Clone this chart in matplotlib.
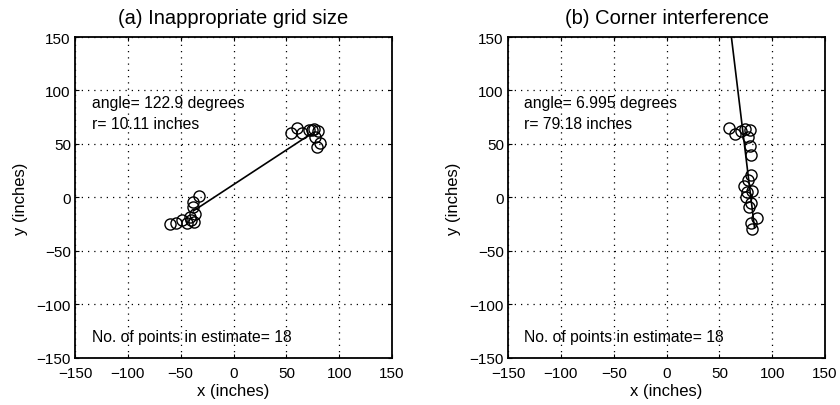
import numpy as np
import matplotlib
matplotlib.use('Agg')
import matplotlib.pyplot as plt

plt.rcParams['font.family'] = ['Liberation Sans', 'DejaVu Sans']

# (a) measured points, two clusters
a_x = [-60, -54, -49, -44, -40, -37, -36, -38, -38, -33, -41,
       60, 54, 65, 71, 76, 80, 77, 82, 79, 74]
a_y = [-25, -24, -21, -24, -21, -23, -15, -9, -4, 1, -18,
       65, 60, 60, 63, 64, 62, 57, 51, 47, 63]
a_angle = 122.9   # degrees
a_r = 10.11       # inches
a_x_span = [-38, 73]

# (b) measured points along one wall
b_x = [59, 65, 70, 74, 79, 77, 79, 80, 80, 77, 73, 76, 81, 75, 80, 78, 86, 80, 81]
b_y = [65, 59, 62, 64, 63, 57, 48, 40, 21, 16, 11, 5, 6, 0, -5, -9, -19, -24, -29]
b_angle = 6.995
b_r = 79.18
b_y_span = [-28, 150]

n_points = 18
ticks = [-150, -100, -50, 0, 50, 100, 150]


def hough_line(angle, r, xs=None, ys=None):
    """Points on the line x*cos(t) + y*sin(t) = r."""
    t = np.deg2rad(angle)
    c, s = np.cos(t), np.sin(t)
    if xs is not None:
        xs = np.asarray(xs, dtype=float)
        return xs, (r - xs * c) / s
    ys = np.asarray(ys, dtype=float)
    return (r - ys * s) / c, ys


def setup_axes(ax, title):
    ax.set_xlim(-150, 150)
    ax.set_ylim(-150, 150)
    labels = ['\u2212' + str(-t) if t < 0 else str(t) for t in ticks]
    ax.set_xticks(ticks)
    ax.set_yticks(ticks)
    ax.set_xticklabels(labels)
    ax.set_yticklabels(labels)
    ax.grid(True, color='black', linestyle=(0, (1, 4)), linewidth=0.9)
    ax.tick_params(direction='in', length=3, labelsize=11, top=True, right=True,
                   width=0.8)
    ax.tick_params(axis='x', pad=6)
    ax.tick_params(axis='y', pad=3)
    for sp in ax.spines.values():
        sp.set_linewidth(1.3)
    ax.set_title(title, fontsize=14.5, pad=10)
    ax.set_xlabel('x (inches)', fontsize=12, labelpad=2)
    ax.set_ylabel('y (inches)', fontsize=12, labelpad=6)


fig = plt.figure(figsize=(8.4, 4.06), dpi=100)
ax1 = fig.add_axes([0.0893, 0.1158, 0.3774, 0.7906])
ax2 = fig.add_axes([0.6048, 0.1158, 0.3774, 0.7906])

# (a)
setup_axes(ax1, '(a) Inappropriate grid size')
lx, ly = hough_line(a_angle, a_r, xs=a_x_span)
ax1.plot(lx, ly, color='black', linewidth=1.2)
ax1.plot(a_x, a_y, 'o', mfc='none', mec='black', ms=8, mew=1.0)
ax1.text(-134, 89, 'angle= %.1f degrees' % a_angle, fontsize=11.3, va='center')
ax1.text(-134, 69, 'r= %.2f inches' % a_r, fontsize=11.3, va='center')
ax1.text(-134, -130, 'No. of points in estimate= %d' % n_points, fontsize=11.3, va='center')

# (b)
setup_axes(ax2, '(b) Corner interference')
lx, ly = hough_line(b_angle, b_r, ys=b_y_span)
ax2.plot(lx, ly, color='black', linewidth=1.2)
ax2.plot(b_x, b_y, 'o', mfc='none', mec='black', ms=8, mew=1.0)
ax2.text(-135, 89, 'angle= %.3f degrees' % b_angle, fontsize=11.3, va='center')
ax2.text(-135, 69, 'r= %.2f inches' % b_r, fontsize=11.3, va='center')
ax2.text(-135, -130, 'No. of points in estimate= %d' % n_points, fontsize=11.3, va='center')

fig.savefig('out.png', dpi=100)
